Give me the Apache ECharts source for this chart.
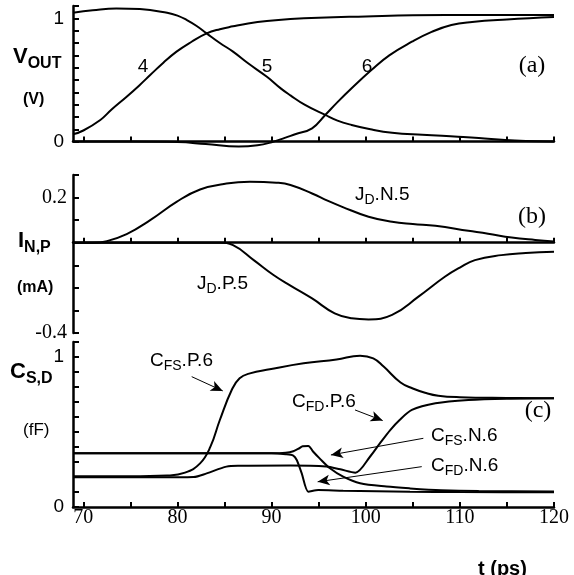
<!DOCTYPE html>
<html>
<head>
<meta charset="utf-8">
<script src="https://cdn.jsdelivr.net/npm/echarts@6/dist/echarts.min.js"></script>
<style>
  html, body { margin: 0; padding: 0; background: #fff; }
  #chart { width: 574px; height: 575px; }
</style>
</head>
<body>
<div id="chart"></div>
<script>
// Time axis (ps)
const T_MIN = 68.9, T_MAX = 120;
const tTicks = [70, 75, 80, 85, 90, 95, 100, 105, 110, 115, 120];
const tLabels = [70, 80, 90, 100, 110, 120];

// (a) output voltages of stages 4, 5, 6 (V)
const vout4 = [[68.9,0.059],[70,0.09],[71.8,0.175],[73,0.26],[74.6,0.364],[76,0.46],[77.1,0.54],[78.5,0.64],[79.9,0.73],[81.5,0.81],[83.1,0.878],[84.5,0.912],[85.9,0.935],[87.5,0.958],[89.5,0.978],[92,0.994],[95,1.005],[100,1.015],[105,1.024],[110,1.027],[115,1.028],[120,1.028]];
const vout5 = [[68.9,1.045],[71,1.065],[73.5,1.08],[76,1.075],[78.9,1.045],[80,1.022],[81,0.986],[82,0.94],[83.1,0.878],[84.5,0.8],[85.9,0.73],[87.5,0.635],[89.5,0.526],[91,0.43],[92,0.375],[93.5,0.3],[95.7,0.216],[97,0.17],[98.5,0.135],[100.5,0.1],[102.8,0.072],[106,0.055],[109.8,0.04],[112,0.03],[114.8,0.013],[117,0.005],[120,0.0]];
const vout6 = [[68.9,0.0],[75,0.0],[80,-0.004],[83,-0.02],[86.5,-0.04],[88.5,-0.03],[90,-0.005],[91.4,0.03],[92.5,0.06],[94.3,0.108],[95.7,0.216],[97,0.32],[98.5,0.432],[100.6,0.58],[102.5,0.7],[104.9,0.81],[107,0.89],[109.1,0.946],[111.3,0.97],[115,0.99],[120,1.01]];

// (b) drain currents of stage 5 (mA)
const jdN5 = [[68.9,0],[71,0],[72.5,0.007],[74.6,0.038],[77.1,0.1],[79.9,0.181],[82.4,0.236],[85.2,0.262],[87.7,0.27],[90.5,0.266],[92,0.256],[94.3,0.218],[96,0.185],[97.5,0.159],[100.3,0.115],[102.8,0.093],[105,0.083],[107.4,0.075],[110.9,0.053],[113,0.04],[115.5,0.023],[118,0.012],[120,0.005]];
const jdP5 = [[68.9,0],[80,0],[84.5,0],[85.9,-0.011],[88.1,-0.077],[90.2,-0.143],[92,-0.19],[94.3,-0.247],[96.7,-0.313],[98.5,-0.335],[100.3,-0.34],[102.8,-0.32],[105.6,-0.239],[108.4,-0.151],[110,-0.11],[111.6,-0.077],[114.4,-0.055],[117,-0.046],[120,-0.04]];

// (c) fringe capacitances of stage 6 (fF)
const cfsP6 = [[68.9,0.205],[75,0.205],[78.9,0.21],[80.8,0.229],[82.4,0.291],[83.5,0.402],[84.5,0.58],[85.76,0.78],[86.6,0.858],[87.7,0.891],[89.8,0.918],[93.4,0.958],[96.9,0.984],[99.4,1.009],[100.8,0.991],[101.9,0.936],[103.7,0.83],[105,0.79],[106.3,0.762],[107.7,0.742],[110,0.732],[115,0.727],[120,0.725]];
const cfdP6 = [[68.9,0.198],[78,0.198],[81.7,0.2],[83.1,0.224],[85.2,0.269],[86.6,0.275],[92,0.277],[95.8,0.27],[97.3,0.251],[98.9,0.229],[100.45,0.335],[101.5,0.424],[102.6,0.513],[103.6,0.58],[104.9,0.647],[107.4,0.691],[110.9,0.713],[115,0.722],[120,0.725]];
const cfsN6 = [[68.9,0.358],[90,0.358],[91.5,0.362],[92.3,0.372],[92.9,0.39],[93.3,0.405],[93.9,0.407],[94.4,0.37],[95.1,0.324],[96.2,0.258],[97.6,0.202],[99.4,0.158],[102.2,0.136],[104.7,0.124],[108,0.112],[112,0.106],[120,0.104]];
const cfdN6 = [[68.9,0.358],[90,0.358],[91.5,0.352],[92.3,0.343],[92.67,0.313],[93.2,0.224],[93.9,0.102],[94.96,0.113],[97.6,0.109],[104.7,0.102],[110,0.1],[120,0.098]];

// Annotation arrows in panel (c): [from, to] in (t, C)
const arrowLines = [
  [[81.51, 0.869], [84.81, 0.774]],
  [[98.86, 0.647], [101.8, 0.576]],
  [[106.12, 0.458], [96.3, 0.347]],
  [[105.95, 0.269], [94.89, 0.168]]
];

const SANS = '"Liberation Sans", Arial, sans-serif';
const SERIF = '"Liberation Serif", "Times New Roman", serif';
const BLACK = '#000';

function near(a, b) { return Math.abs(a - b) < 1e-6; }

function makeX(gi, withLabels) {
  return {
    type: 'value', gridIndex: gi, min: T_MIN, max: T_MAX,
    axisLine: { show: true, onZero: true, lineStyle: { color: BLACK, width: 2.5 } },
    axisTick: { show: true, inside: true, length: 5, customValues: tTicks, lineStyle: { color: BLACK, width: 2 } },
    axisLabel: withLabels
      ? { show: true, customValues: tLabels, margin: 1, color: BLACK, fontFamily: SERIF, fontSize: 20 }
      : { show: false },
    splitLine: { show: false }
  };
}

function makeY(gi, min, max, shown, family, size, margin) {
  return {
    type: 'value', gridIndex: gi, min: min, max: max, interval: 0.1,
    axisLine: { show: true, onZero: false, lineStyle: { color: BLACK, width: 2.5 } },
    axisTick: { show: true, inside: true, length: 6, lineStyle: { color: BLACK, width: 2 } },
    axisLabel: {
      show: true, margin: margin, color: BLACK, fontFamily: family, fontSize: size,
      formatter: function (v) {
        for (const s of shown) { if (near(v, s)) return String(s); }
        return '';
      }
    },
    splitLine: { show: false }
  };
}

function curve(data, gi, smooth) {
  return {
    type: 'line', data: data, xAxisIndex: gi, yAxisIndex: gi,
    showSymbol: false, symbol: 'none', smooth: smooth === undefined ? 0.45 : smooth,
    clip: false, silent: true, animation: false,
    lineStyle: { color: BLACK, width: 2 }
  };
}

// rich-text styles for labels with subscripts
const richAxis = {
  m: { font: 'bold 22px ' + SANS, fill: BLACK },
  s: { font: 'bold 16px ' + SANS, fill: BLACK, padding: [13, 0, 0, 0] }
};
const richLbl = {
  m: { font: '19px ' + SANS, fill: BLACK },
  s: { font: '14px ' + SANS, fill: BLACK, padding: [11, 0, 0, 0] }
};

function txt(x, y, text, font, align, rich) {
  const style = {
    text: text, fill: BLACK,
    align: align || 'left', verticalAlign: 'middle',
    textAlign: align || 'left', textVerticalAlign: 'middle'
  };
  if (font) style.font = font;
  if (rich) style.rich = rich;
  return { type: 'text', x: x, y: y, silent: true, style: style };
}

const chart = echarts.init(document.getElementById('chart'), null, { renderer: 'canvas' });

const panelC = [curve(cfsP6, 2), curve(cfdP6, 2, 0.3), curve(cfsN6, 2, 0.3), curve(cfdN6, 2, 0.25)];
panelC[0].markLine = {
  silent: true, animation: false,
  symbol: ['none', 'arrow'], symbolSize: [8, 12],
  label: { show: false },
  lineStyle: { color: BLACK, width: 1, type: 'solid' },
  emphasis: { disabled: true },
  data: arrowLines.map(function (a) { return [{ coord: a[0] }, { coord: a[1] }]; })
};

chart.setOption({
  animation: false,
  backgroundColor: '#fff',
  grid: [
    { left: 73, right: 20, top: 6, height: 135.6 },
    { left: 73, right: 20, top: 175, height: 158 },
    { left: 73, right: 20, top: 342, height: 165 }
  ],
  xAxis: [makeX(0, false), makeX(1, false), makeX(2, true)],
  yAxis: [
    makeY(0, 0, 1.1, [0, 1], SANS, 19, 9),
    makeY(1, -0.4, 0.3, [0.2, -0.4], SERIF, 20, 6),
    makeY(2, 0, 1.1, [0, 1], SANS, 19, 9)
  ],
  series: [
    curve(vout4, 0), curve(vout5, 0), curve(vout6, 0),
    curve(jdN5, 1), curve(jdP5, 1)
  ].concat(panelC),
  graphic: [
    // axis titles
    txt(13, 57, '{m|V}{s|OUT}', null, 'left', richAxis),
    txt(23, 100, '(V)', 'bold 16px ' + SANS),
    txt(18, 241, '{m|I}{s|N,P}', null, 'left', richAxis),
    txt(17, 288, '(mA)', 'bold 16px ' + SANS),
    txt(10, 372, '{m|C}{s|S,D}', null, 'left', richAxis),
    txt(23, 430, '(fF)', '17px ' + SANS),
    txt(478, 569, 't (ps)', 'bold 20px ' + SANS),
    // panel (a)
    txt(143, 67, '4', '19px ' + SANS, 'center'),
    txt(267, 67, '5', '19px ' + SANS, 'center'),
    txt(367, 67, '6', '19px ' + SANS, 'center'),
    txt(532, 66, '(a)', '24px ' + SERIF, 'center'),
    // panel (b)
    txt(355, 195, '{m|J}{s|D}{m|.N.5}', null, 'left', richLbl),
    txt(197, 284, '{m|J}{s|D}{m|.P.5}', null, 'left', richLbl),
    txt(532, 217, '(b)', '24px ' + SERIF, 'center'),
    // panel (c)
    txt(150, 361, '{m|C}{s|FS}{m|.P.6}', null, 'left', richLbl),
    txt(292, 402, '{m|C}{s|FD}{m|.P.6}', null, 'left', richLbl),
    txt(431, 436, '{m|C}{s|FS}{m|.N.6}', null, 'left', richLbl),
    txt(431, 466, '{m|C}{s|FD}{m|.N.6}', null, 'left', richLbl),
    txt(538, 411, '(c)', '24px ' + SERIF, 'center')
  ]
});
</script>
</body>
</html>
